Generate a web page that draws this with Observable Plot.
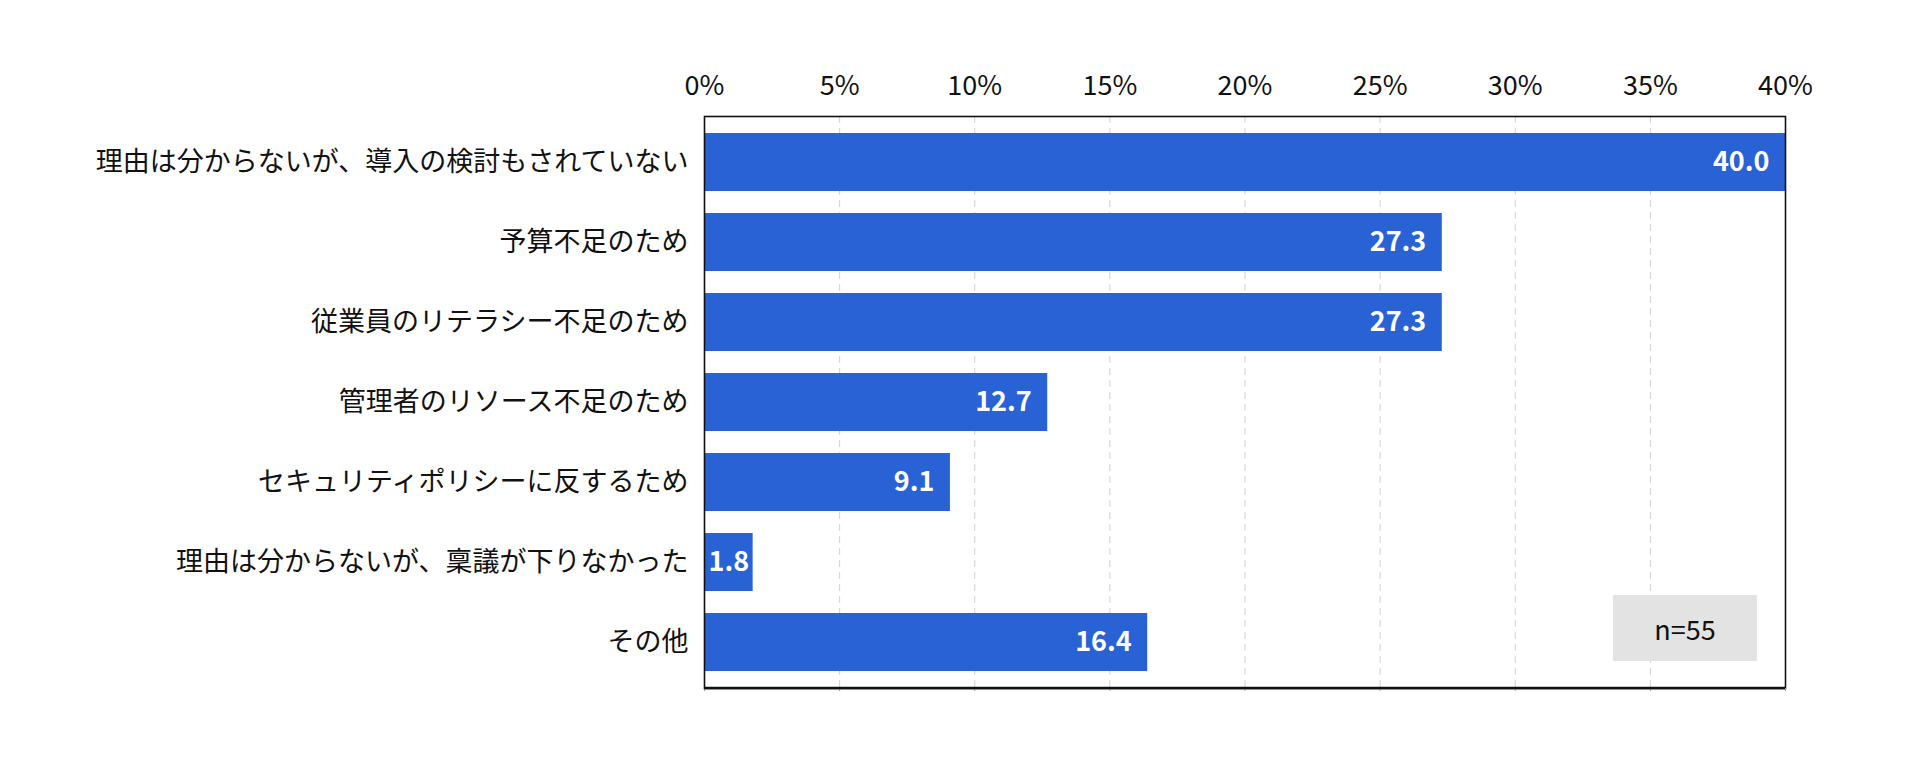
<!DOCTYPE html>
<html>
<head>
<meta charset="utf-8">
<script src="https://cdn.jsdelivr.net/npm/d3@7"></script>
<script src="https://cdn.jsdelivr.net/npm/@observablehq/plot@0.6"></script>
<style>
  html, body { margin: 0; padding: 0; background: #fff; }
  #wrap { position: relative; width: 1920px; height: 767px; font-family: "Noto Sans CJK JP", "Noto Sans", sans-serif; }
  #note { position: absolute; left: 1613px; top: 595px; width: 144px; height: 66px; background: #e3e3e3;
          display: flex; align-items: center; justify-content: center; font-size: 27px; color: #111; }
</style>
</head>
<body>
<div id="wrap"></div>
<script>
const categories = [
  "理由は分からないが、導入の検討もされていない",
  "予算不足のため",
  "従業員のリテラシー不足のため",
  "管理者のリソース不足のため",
  "セキュリティポリシーに反するため",
  "理由は分からないが、稟議が下りなかった",
  "その他"
];
const values = [40.0, 27.3, 27.3, 12.7, 9.1, 1.8, 16.4];
const xTicks = [0, 5, 10, 15, 20, 25, 30, 35, 40];
const sampleNote = "n=55";

const data = categories.map((c, i) => ({ category: c, value: values[i] }));
const font = "Noto Sans CJK JP";

const chart = Plot.plot({
  width: 1920,
  height: 767,
  marginLeft: 704,
  marginRight: 135,
  marginTop: 116,
  marginBottom: 79,
  style: { fontFamily: font, background: "#fff", overflow: "visible" },
  x: { domain: [0, 40], axis: null, label: null },
  y: { domain: categories, axis: null, label: null, paddingInner: 0.28, paddingOuter: 0.215 },
  marks: [
    Plot.ruleX(xTicks.filter(t => t > 0 && t < 40), { stroke: "#d0d0d0", strokeWidth: 1, strokeDasharray: "7,5" }),
    Plot.barX(data, { y: "category", x: "value", fill: "#2962d4" }),
    Plot.frame({ stroke: "#111", strokeWidth: 1.6 }),
    Plot.axisX(xTicks, { anchor: "top", label: null, tickSize: 0, tickPadding: 22, tickFormat: d => d + "%", fontSize: 27, fill: "#111", fontFamily: font }),
    Plot.axisX(xTicks, { anchor: "bottom", label: null, tickSize: 3, stroke: "#999", tickFormat: () => "" }),
    Plot.axisY({ anchor: "left", label: null, tickSize: 0, tickPadding: 16, fontSize: 27, fill: "#111", fontFamily: font }),
    Plot.text(data.filter(d => d.value >= 5), {
      y: "category", x: "value", text: d => d.value.toFixed(1),
      textAnchor: "end", dx: -16, fill: "#fff", fontWeight: "bold", fontSize: 27, fontFamily: font
    }),
    Plot.text(data.filter(d => d.value < 5), {
      y: "category", x: d => d.value / 2, text: d => d.value.toFixed(1),
      textAnchor: "middle", fill: "#fff", fontWeight: "bold", fontSize: 27, fontFamily: font
    })
  ]
});

const wrap = document.getElementById("wrap");
wrap.appendChild(chart);
// thicker bottom border line
const svg = d3.select(chart);
svg.append("line")
  .attr("x1", 704).attr("x2", 1785)
  .attr("y1", 688).attr("y2", 688)
  .attr("stroke", "#111").attr("stroke-width", 2.6);

const note = document.createElement("div");
note.id = "note";
note.textContent = sampleNote;
wrap.appendChild(note);
</script>
</body>
</html>
